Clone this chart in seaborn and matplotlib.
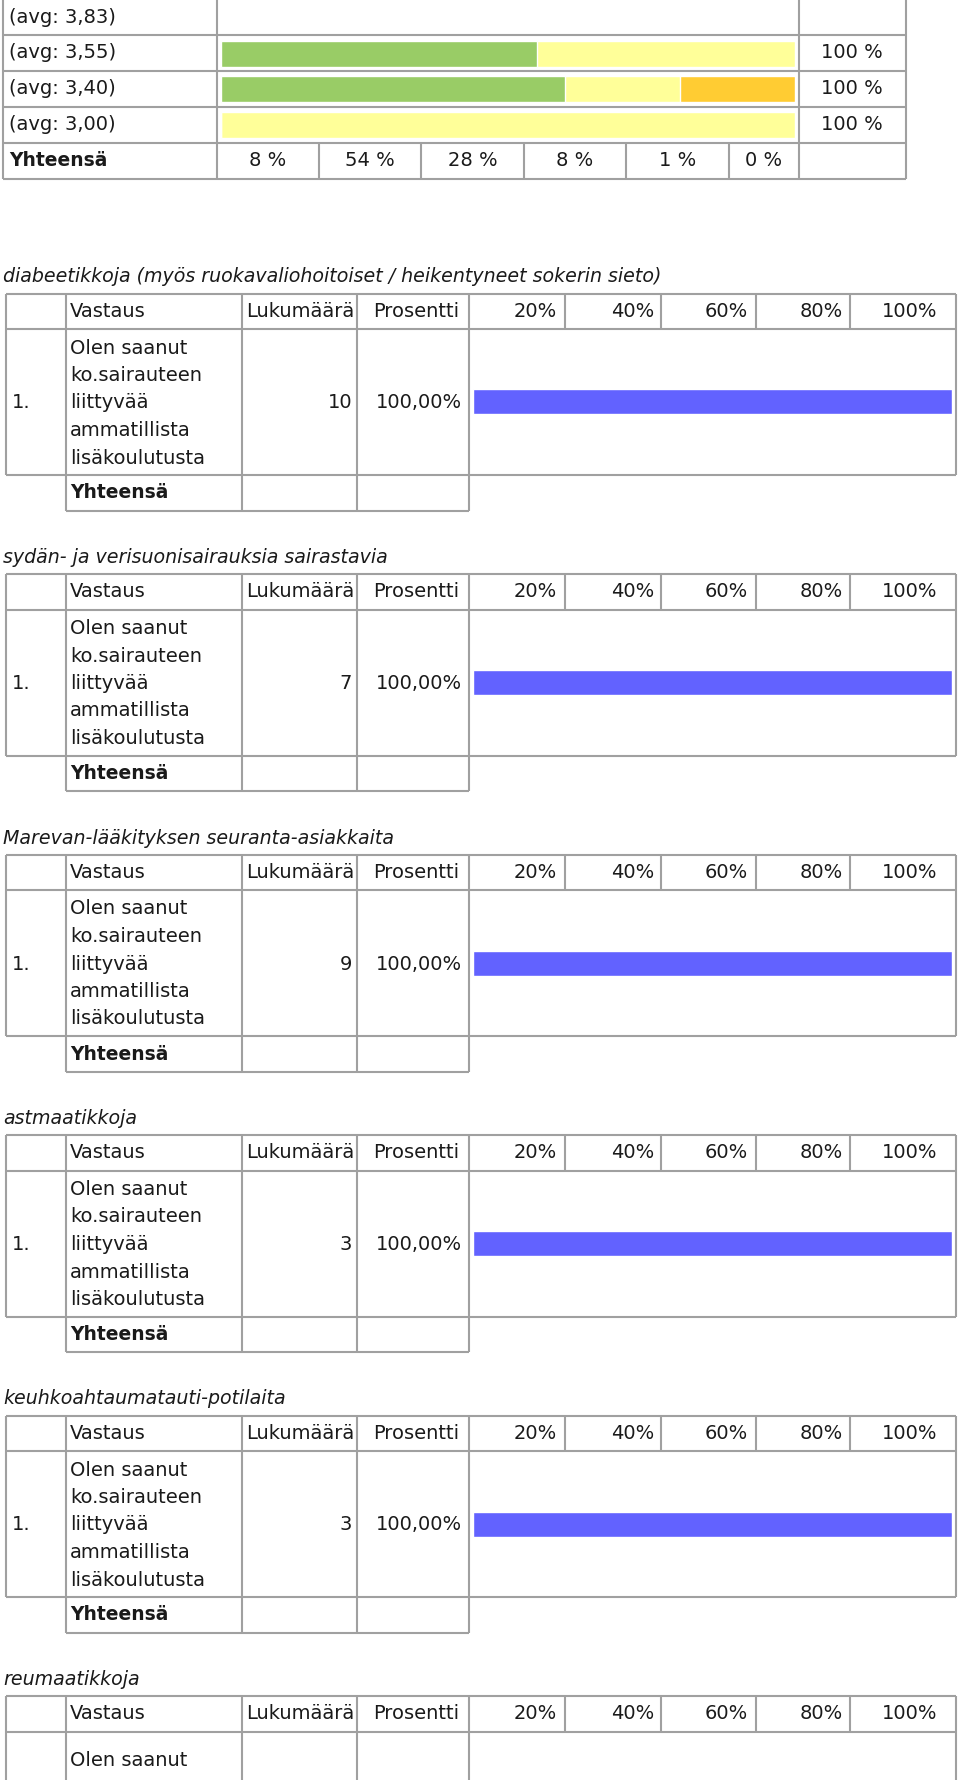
import matplotlib
matplotlib.use("Agg")
import matplotlib.pyplot as plt
import seaborn as sns
import pandas as pd

# ---------------- data ----------------
avg_labels = ["(avg: 3,83)", "(avg: 3,55)", "(avg: 3,40)", "(avg: 3,00)"]
green_vals = [0, 55, 60, 0]
yellow_vals = [0, 45, 20, 100]
orange_vals = [0, 0, 20, 0]
row_totals = ["", "100 %", "100 %", "100 %"]
summary_labels = ["8 %", "54 %", "28 %", "8 %", "1 %", "0 %"]

section_titles = [
    "diabeetikkoja (myös ruokavaliohoitoiset / heikentyneet sokerin sieto)",
    "sydän- ja verisuonisairauksia sairastavia",
    "Marevan-lääkityksen seuranta-asiakkaita",
    "astmaatikkoja",
    "keuhkoahtaumatauti-potilaita",
    "reumaatikkoja",
]
section_counts = [10, 7, 9, 3, 3, None]
section_percents = [100, 100, 100, 100, 100, None]
header_labels = ["Vastaus", "Lukumäärä", "Prosentti"]
scale_labels = ["20%", "40%", "60%", "80%", "100%"]
answer_lines = ["Olen saanut", "ko.sairauteen", "liittyvää", "ammatillista", "lisäkoulutusta"]

# ---------------- style ----------------
sns.set_theme(style="white")
plt.rcParams["font.family"] = ["DejaVu Sans"]

W, H = 960, 1780
fig = plt.figure(figsize=(W / 100, H / 100), dpi=100)
fig.patch.set_facecolor("white")
ax = fig.add_axes([0, 0, 1, 1])
ax.set_xlim(0, W)
ax.set_ylim(H, 0)
ax.axis("off")

LC = "#a0a0a0"
LW = 1.5
FS = 14
FS_B = 13.5
FS_I = 13.7
TC = "#1a1a1a"
GREEN, YELLOW, ORANGE, BLUE = "#99cc66", "#ffff99", "#ffcc33", "#6262ff"


def hl(y, x0, x1):
    ax.plot([x0, x1], [y, y], color=LC, lw=LW, solid_capstyle="butt")


def vl(x, y0, y1):
    ax.plot([x, x], [y0, y1], color=LC, lw=LW, solid_capstyle="butt")


def inset(x0, y0, x1, y1):
    a = fig.add_axes([x0 / W, 1 - y1 / H, (x1 - x0) / W, (y1 - y0) / H])
    a.patch.set_alpha(0)
    return a


# ---------------- top table ----------------
rows_y = [0, 35, 71, 107, 143, 179]
for y in rows_y[1:]:
    hl(y, 3, 906)
for x in [3, 217, 799, 906]:
    vl(x, 0, 179)
for x in [319, 421, 524, 626, 729]:
    vl(x, 143, 179)

for i, lab in enumerate(avg_labels):
    yc = (rows_y[i] + rows_y[i + 1]) / 2
    ax.text(9, yc, lab, fontsize=FS, color=TC, va="center", ha="left")
    if row_totals[i]:
        ax.text(852, yc, row_totals[i], fontsize=FS, color=TC, va="center", ha="center")

yc = (143 + 179) / 2
ax.text(9, yc, "Yhteensä", fontsize=FS_B, color=TC, va="center", ha="left", fontweight="bold")
col_edges = [217, 319, 421, 524, 626, 729, 799]
for i, lab in enumerate(summary_labels):
    xc = (col_edges[i] + col_edges[i + 1]) / 2
    ax.text(xc, yc, lab, fontsize=FS, color=TC, va="center", ha="center")

# stacked bars (cumulative overlay)
df_top = pd.DataFrame({
    "row": avg_labels,
    "g": green_vals,
    "gy": [g + y for g, y in zip(green_vals, yellow_vals)],
    "gyo": [g + y + o for g, y, o in zip(green_vals, yellow_vals, orange_vals)],
})
bax = inset(221, 0, 795, 143)
for col, c in [("gyo", ORANGE), ("gy", YELLOW), ("g", GREEN)]:
    sns.barplot(data=df_top, x=col, y="row", order=avg_labels, orient="h",
                color=c, saturation=1, width=0.73, errorbar=None, ax=bax)
bax.set_xlim(0, 100)
bax.axis("off")

# ---------------- sections ----------------
cols = [6, 66, 242, 357, 469, 565, 661, 756, 850, 956]
for k, title in enumerate(section_titles):
    T = 277 + 280.5 * k
    top, hb, db, yb = T + 16.5, T + 52, T + 198, T + 233.5
    last = section_counts[k] is None
    ax.text(3, T, title, fontsize=FS_I, color=TC, style="italic", va="center", ha="left")
    hl(top, 6, 956)
    hl(hb, 6, 956)
    hl(db, 6, 956)
    hl(yb, 66, 469)
    for x in cols:
        vl(x, top, hb)
    for x in [6, 66, 242, 357, 469, 956]:
        vl(x, hb, db)
    for x in [66, 242, 357, 469]:
        vl(x, db, yb)
    hy = (top + hb) / 2
    ax.text(70, hy, header_labels[0], fontsize=FS, color=TC, va="center", ha="left")
    ax.text(246, hy, header_labels[1], fontsize=FS, color=TC, va="center", ha="left")
    ax.text(416, hy, header_labels[2], fontsize=FS, color=TC, va="center", ha="center")
    for xr, lab in zip([557, 654, 748, 843, 937], scale_labels):
        ax.text(xr, hy, lab, fontsize=FS, color=TC, va="center", ha="right")
    # data row (last, cut-off table sits a little lower in the page)
    shift = 9.5 if last else 0
    if T + 126 + shift < H - 12:
        ax.text(12, T + 126 + shift, "1.", fontsize=FS, color=TC, va="center", ha="left")
    for j, line in enumerate(answer_lines):
        ly = T + 71 + 27.5 * j + shift
        if ly < H - 12:
            ax.text(70, ly, line, fontsize=FS, color=TC, va="center", ha="left")
    if not last:
        ax.text(352, T + 126, str(section_counts[k]), fontsize=FS, color=TC, va="center", ha="right")
        ax.text(462, T + 126, f"{section_percents[k]:.2f}%".replace(".", ","),
                fontsize=FS, color=TC, va="center", ha="right")
        dfb = pd.DataFrame({"ans": ["1."], "pct": [section_percents[k]]})
        sax = inset(473, hb, 952, db)
        sns.barplot(data=dfb, x="pct", y="ans", orient="h", color=BLUE, saturation=1,
                    width=25 / (db - hb), errorbar=None, ax=sax)
        sax.set_xlim(0, 100)
        sax.axis("off")
        ax.text(70, T + 216, "Yhteensä", fontsize=FS_B, color=TC, va="center", ha="left",
                fontweight="bold")

fig.savefig("out.png", dpi=100, facecolor="white")
